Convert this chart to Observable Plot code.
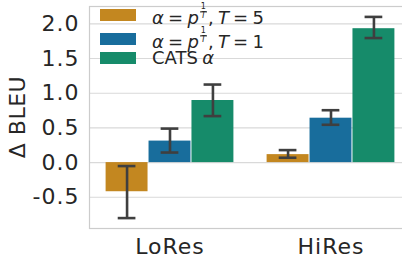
<!DOCTYPE html>
<html>
<head>
<meta charset="utf-8">
<script src="https://cdn.jsdelivr.net/npm/d3@7"></script>
<script src="https://cdn.jsdelivr.net/npm/@observablehq/plot@0.6"></script>
<style>
  html, body { margin: 0; padding: 0; background: #fff; overflow: hidden; }
  #wrap { position: relative; width: 402px; height: 258px; overflow: hidden; font-family: "DejaVu Sans", sans-serif; color: #262626; }
  #wrap svg { max-width: none !important; }
  .lg-row { position: absolute; left: 0; height: 12px; }
  .sw { position: absolute; left: 100px; width: 36px; height: 12px; }
  .lt { position: absolute; left: 152px; top: 50%; transform: translateY(-54%); font-size: 18px; white-space: nowrap; line-height: 0.85; word-spacing: -1.5px; }
  .frac { display: inline-block; font-size: 8px; line-height: 0.95; text-align: center; vertical-align: 0.7em; margin: 0 1px 0 1px; word-spacing: 0; }
  .frac .num { display: block; border-bottom: 0.8px solid #262626; padding: 0 1px; }
  .frac .den { display: block; font-style: italic; }
  #ylab { position: absolute; left: 17px; top: 117px; transform: translate(-50%, -50%) rotate(-90deg); font-size: 22px; white-space: nowrap; letter-spacing: 0.5px; }
</style>
</head>
<body>
<div id="wrap"></div>
<script>
// ---- data ----
const categories = ["LoRes", "HiRes"];
const seriesKeys = ["T5", "T1", "CATS"];
const seriesColors = ["#c38720", "#186d9c", "#168b6a"];
const seriesLabelsHtml = [
  '<i>α</i> = <i>p</i><span class="frac"><span class="num">1</span><span class="den">T</span></span>, <i>T</i> = 5',
  '<i>α</i> = <i>p</i><span class="frac"><span class="num">1</span><span class="den">T</span></span>, <i>T</i> = 1',
  'CATS <i>α</i>'
];
// mean Δ BLEU per category (LoRes, HiRes)
const meanT5 = [-0.42, 0.115];
const meanT1 = [0.31, 0.64];
const meanCATS = [0.895, 1.93];
// error bar extents
const loT5 = [-0.80, 0.07];
const hiT5 = [-0.05, 0.18];
const loT1 = [0.145, 0.545];
const hiT1 = [0.49, 0.755];
const loCATS = [0.67, 1.795];
const hiCATS = [1.125, 2.10];
const yTicks = [-0.5, 0.0, 0.5, 1.0, 1.5, 2.0];

// ---- table ----
const means = {T5: meanT5, T1: meanT1, CATS: meanCATS};
const los = {T5: loT5, T1: loT1, CATS: loCATS};
const his = {T5: hiT5, T1: hiT1, CATS: hiCATS};
const barWidth = 0.8 / seriesKeys.length;
const capHalf = 0.055;
const rows = [];
categories.forEach((c, ci) => {
  seriesKeys.forEach((s, si) => {
    const center = ci + (si - (seriesKeys.length - 1) / 2) * barWidth;
    rows.push({cat: c, series: s, center, x1: center - barWidth / 2, x2: center + barWidth / 2,
      mean: means[s][ci], lo: los[s][ci], hi: his[s][ci]});
  });
});

const chart = Plot.plot({
  width: 411,
  height: 258,
  marginLeft: 89,
  marginRight: 0,
  marginTop: 6,
  marginBottom: 30,
  style: {fontSize: "22px", fontFamily: "DejaVu Sans, sans-serif", color: "#262626", background: "white", overflow: "visible", maxWidth: "none", letterSpacing: "1px"},
  x: {domain: [-0.5, categories.length - 0.5], ticks: categories.map((_, i) => i),
      tickFormat: i => categories[i], tickSize: 0, tickPadding: 10, label: null},
  y: {domain: [-0.95, 2.25], ticks: yTicks, tickFormat: d => d.toFixed(1), tickSize: 0, tickPadding: 10, label: null},
  color: {domain: seriesKeys, range: seriesColors},
  marks: [
    Plot.ruleY(yTicks, {stroke: "#d9d9d9", strokeWidth: 1.1}),
    Plot.frame({stroke: "#cccccc", strokeWidth: 1.2}),
    Plot.rectY(rows, {x1: "x1", x2: "x2", y: "mean", fill: "series", insetLeft: 0.5, insetRight: 0.5}),
    Plot.ruleX(rows, {x: "center", y1: "lo", y2: "hi", stroke: "#3f3f3f", strokeWidth: 2.6}),
    Plot.ruleY(rows, {y: "lo", x1: d => d.center - capHalf, x2: d => d.center + capHalf, stroke: "#3f3f3f", strokeWidth: 2.6}),
    Plot.ruleY(rows, {y: "hi", x1: d => d.center - capHalf, x2: d => d.center + capHalf, stroke: "#3f3f3f", strokeWidth: 2.6})
  ]
});

const wrap = document.getElementById("wrap");
wrap.appendChild(chart);

// legend (inside the axes, top-left)
const rowTops = [9, 33, 52];
seriesKeys.forEach((s, i) => {
  const row = document.createElement("div");
  row.className = "lg-row";
  row.style.top = rowTops[i] + "px";
  row.style.width = "300px";
  row.innerHTML = `<div class="sw" style="background:${seriesColors[i]}"></div><div class="lt">${seriesLabelsHtml[i]}</div>`;
  wrap.appendChild(row);
});

const ylab = document.createElement("div");
ylab.id = "ylab";
ylab.textContent = "Δ BLEU";
wrap.appendChild(ylab);
</script>
</body>
</html>
